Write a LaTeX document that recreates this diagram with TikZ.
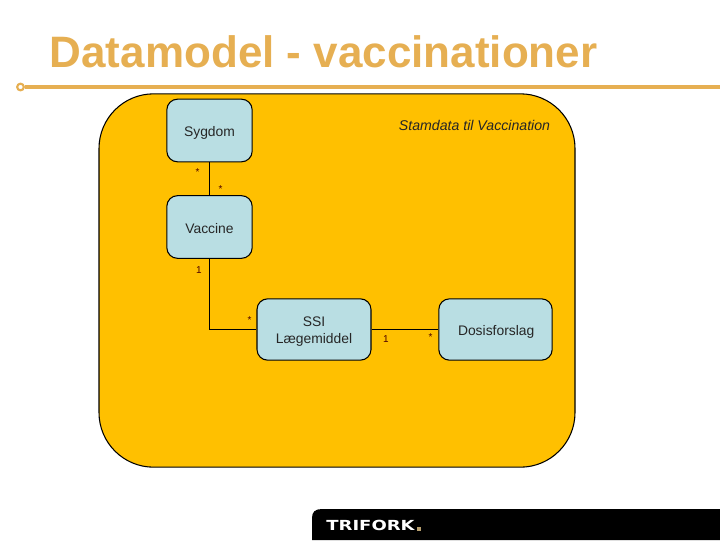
\documentclass[tikz,border=0pt]{standalone}
\usepackage{fontspec}
\setmainfont{Liberation Sans}
\newfontfamily\logofont{DejaVu Sans}
\definecolor{titlegold}{HTML}{E6AF52}
\definecolor{panelgold}{HTML}{FFC000}
\definecolor{boxblue}{HTML}{B9DEE3}
\definecolor{logotan}{HTML}{B8A070}
\tikzset{
  entity/.style={draw=black, line width=0.8pt, fill=boxblue, rounded corners=8pt, inner sep=0pt, align=center, text=black!85, font=\fontsize{10.4}{12.8}\selectfont},
  oneline/.style={text height=9pt, text depth=0pt},
  mult/.style={inner sep=0pt, text=black!70!red, font=\fontsize{7.5}{8}\selectfont}
}
\begin{document}
\begin{tikzpicture}[x=0.75pt,y=-0.75pt]
\useasboundingbox (0,0) rectangle (720,540);

\node [anchor=base west, inner sep=0pt, text=titlegold, font=\fontsize{33}{36}\selectfont\bfseries] (title) at (49.5,67) {Datamodel - vaccinationer};
\node [circle, draw=titlegold, line width=1.6pt, fill=white, minimum size=5pt, inner sep=0pt] (bullet) at (20.5,87) {};
\coordinate (rulend) at (720,87);
\draw [titlegold, line width=2.4pt] (bullet) -- (rulend);

\node [draw=black, line width=0.8pt, fill=panelgold, rounded corners=41pt, minimum width=357pt, minimum height=280pt, inner sep=0pt] (panel) at (337,280.5) {};
\node [inner sep=0pt, text=black!85, font=\fontsize{10.6}{12}\selectfont\itshape] (stamdata) at (474.5,125) {Stamdata til Vaccination};

\node [entity, oneline, minimum width=64pt, minimum height=47pt] (sygdom) at (209.5,130.5) {Sygdom};
\node [entity, oneline, minimum width=64pt, minimum height=47pt] (vaccine) at (209.5,227) {Vaccine};
\node [entity, minimum width=85.5pt, minimum height=46pt] (ssi) at (314,329.5) {\rule{0pt}{9.7pt}SSI\\Lægemiddel};
\node [entity, oneline, minimum width=85pt, minimum height=46pt] (dosis) at (495.5,329.5) {\hspace{1pt}Dosisforslag};

\draw [line width=0.8pt] (sygdom) -- (vaccine);
\draw [line width=0.8pt] (vaccine) |- (ssi);
\draw [line width=0.8pt] (ssi) -- (dosis);

\node [mult] (m1) at (197.5,172) {*};
\node [mult] (m2) at (220.5,189) {*};
\node [mult] (m3) at (199,270.5) {1};
\node [mult] (m4) at (249.5,320) {*};
\node [mult] (m5) at (386,339) {1};
\node [mult] (m6) at (430.5,337.5) {*};

% logo strip
\fill [black] (312,540) -- (312,518) .. controls (312,512) and (315,509) .. (322,509) -- (720,509) -- (720,540) -- cycle;
\node [anchor=base west, inner sep=0pt, text=white, xscale=1.3, font=\logofont\fontsize{10.4}{12}\selectfont\bfseries] (logo) at (326,530) {TRIFORK};
\fill [logotan] (417,527) rectangle (421,530.5);
\end{tikzpicture}
\end{document}
